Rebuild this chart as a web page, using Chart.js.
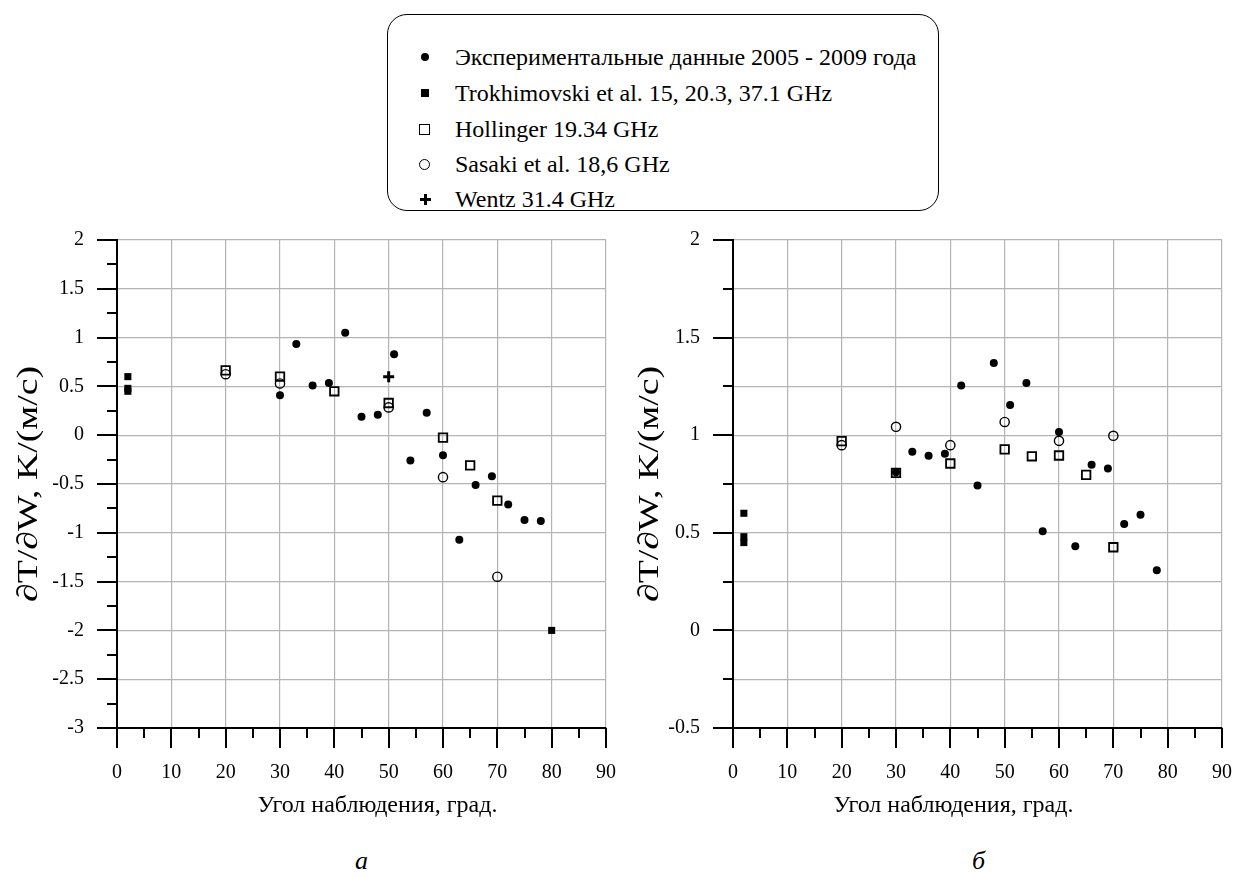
<!DOCTYPE html>
<html>
<head>
<meta charset="utf-8">
<script src="https://cdn.jsdelivr.net/npm/chart.js@4.4.1/dist/chart.umd.min.js"></script>
<style>
  html, body { overflow: hidden; }
  body { margin: 0; background: #fff; width: 1236px; height: 888px; position: relative;
         font-family: "Liberation Serif", "Times New Roman", serif; color: #000; }
  .box { position: absolute; }
  #legend { left: 387px; top: 14px; width: 552px; height: 197px; border: 1px solid #000; border-radius: 20px; box-sizing: border-box; }
  .row { position: absolute; left: 0; height: 30px; line-height: 30px; font-size: 24px; white-space: nowrap; }
  .row span.txt { position: absolute; left: 67px; top: 0; }
  .mk { position: absolute; box-sizing: border-box; }
  .sub { position: absolute; font-size: 26px; font-style: italic; }
</style>
</head>
<body>
<div class="box" style="left:0;top:230px;width:620px;height:600px"><canvas id="chartA"></canvas></div>
<div class="box" style="left:620px;top:230px;width:616px;height:600px"><canvas id="chartB"></canvas></div>

<div id="legend" class="box"></div>
<div class="sub" style="left:355px;top:846px">а</div>
<div class="sub" style="left:972px;top:846px">б</div>

<script>
// --- Data (angle in degrees, dT/dW in K/(m/s)) ---
const expAngles   = [30, 33, 36, 39, 42, 45, 48, 51, 54, 57, 60, 63, 66, 69, 72, 75, 78];
const expLeft     = [0.41, 0.935, 0.51, 0.535, 1.05, 0.19, 0.21, 0.83, -0.26, 0.23, -0.205, -1.07, -0.51, -0.42, -0.71, -0.87, -0.88];
const expRight    = [0.81, 0.915, 0.895, 0.905, 1.255, 0.742, 1.37, 1.155, 1.268, 0.508, 1.017, 0.431, 0.848, 0.83, 0.545, 0.593, 0.308];

const trokhAnglesLeft  = [2, 2, 2, 80];
const trokhLeft        = [0.6, 0.48, 0.45, -2.0];
const trokhAnglesRight = [2, 2, 2];
const trokhRight       = [0.6, 0.48, 0.45];

const hollAnglesLeft  = [20, 30, 40, 50, 60, 65, 70];
const hollLeft        = [0.665, 0.6, 0.45, 0.33, -0.025, -0.31, -0.67];
const hollAnglesRight = [20, 30, 40, 50, 55, 60, 65, 70];
const hollRight       = [0.97, 0.807, 0.855, 0.927, 0.892, 0.896, 0.797, 0.426];

const sasAnglesLeft  = [20, 30, 50, 60, 70];
const sasLeft        = [0.625, 0.53, 0.285, -0.43, -1.45];
const sasAnglesRight = [20, 30, 40, 50, 60, 70];
const sasRight       = [0.949, 1.043, 0.949, 1.068, 0.971, 0.997];

const wentzAngles = [50];
const wentzLeft   = [0.6];

// tick labels
const xTickLabels      = ['0', '10', '20', '30', '40', '50', '60', '70', '80', '90'];
const yTickLabelsLeft  = ['-3', '-2.5', '-2', '-1.5', '-1', '-0.5', '0', '0.5', '1', '1.5', '2'];
const yTickLabelsRight = ['-0.5', '0', '0.5', '1', '1.5', '2'];

const legendLabels = [
  'Экспериментальные данные 2005 - 2009 года',
  'Trokhimovski et al. 15, 20.3, 37.1 GHz',
  'Hollinger 19.34 GHz',
  'Sasaki et al. 18,6 GHz',
  'Wentz 31.4 GHz'
];

const xTitle = 'Угол наблюдения, град.';
const yTitle = '\u2202T/\u2202W, K/(м/с)';
const serif = '"Liberation Serif", "Times New Roman", serif';

Chart.defaults.font.family = serif;
Chart.defaults.color = '#000';

const pts = (xs, ys) => xs.map((x, i) => ({ x: x, y: ys[i] }));

// markers
const styleExp   = { pointStyle: 'circle', pointRadius: 4, backgroundColor: '#000', borderColor: '#000', borderWidth: 0 };
const styleTrokh = { pointStyle: 'rect', pointRadius: 5, backgroundColor: '#000', borderColor: '#000', borderWidth: 0 };
const styleHoll  = { pointStyle: 'rect', pointRadius: 6, backgroundColor: 'rgba(255,255,255,0)', borderColor: '#000', borderWidth: 1.8 };
const styleSas   = { pointStyle: 'circle', pointRadius: 4.6, backgroundColor: 'rgba(255,255,255,0)', borderColor: '#000', borderWidth: 1.4 };
const styleWentz = { pointStyle: 'cross', pointRadius: 5.5, backgroundColor: '#000', borderColor: '#000', borderWidth: 3 };

// tick marks, tick labels and axis titles, placed with the chart's own scales
const axisDecor = {
  id: 'axisDecor',
  afterDraw(chart, args, opts) {
    const { ctx, chartArea: a, scales: { x, y } } = chart;
    ctx.save();
    ctx.strokeStyle = '#000';
    ctx.lineWidth = 2;
    ctx.beginPath();
    for (let v = 0; v <= 90; v += 5) {
      const px = Math.round(x.getPixelForValue(v));
      ctx.moveTo(px, a.bottom);
      ctx.lineTo(px, a.bottom + (v % 10 === 0 ? 20 : 10));
    }
    for (let v = y.min; v <= y.max + 1e-9; v += 0.25) {
      const py = Math.round(y.getPixelForValue(v));
      const major = Math.abs(v * 2 - Math.round(v * 2)) < 1e-6;
      ctx.moveTo(a.left, py);
      ctx.lineTo(a.left - (major ? 20 : 10), py);
    }
    ctx.stroke();

    ctx.fillStyle = '#000';
    ctx.font = '20px ' + serif;
    ctx.textBaseline = 'middle';
    ctx.textAlign = 'center';
    xTickLabels.forEach(t => ctx.fillText(t, x.getPixelForValue(+t), a.bottom + opts.xLabelOffset));
    ctx.textAlign = 'right';
    opts.yLabels.forEach(t => ctx.fillText(t, a.left - opts.yLabelGap, y.getPixelForValue(+t)));

    ctx.textAlign = 'center';
    ctx.font = '24px ' + serif;
    ctx.fillText(xTitle, (a.left + a.right) / 2 + opts.xShift, a.bottom + opts.xTitleOffset);
    // y title, stretched along its length
    ctx.font = '29px ' + serif;
    const w = ctx.measureText(yTitle).width;
    ctx.translate(a.left - opts.yTitleOffset, (a.top + a.bottom) / 2);
    ctx.rotate(-Math.PI / 2);
    ctx.scale(opts.yLength / w, 1);
    ctx.fillText(yTitle, 0, 0);
    ctx.restore();
  }
};

function makeChart(id, datasets, yMin, yMax, yStep, yWidth, decor) {
  return new Chart(document.getElementById(id), {
    type: 'scatter',
    data: { datasets: datasets },
    options: {
      responsive: true,
      maintainAspectRatio: false,
      animation: false,
      layout: { padding: { top: 10, right: 14, bottom: 0, left: 0 } },
      plugins: { legend: { display: false }, tooltip: { enabled: false }, axisDecor: decor },
      scales: {
        x: {
          type: 'linear', min: 0, max: 90,
          afterFit: s => { s.height = 102; },
          ticks: { stepSize: 10, display: false },
          grid: { color: '#b4b4b4', lineWidth: 1.2, drawTicks: false },
          border: { color: '#000', width: 2 }
        },
        y: {
          type: 'linear', min: yMin, max: yMax,
          afterFit: s => { s.width = yWidth; },
          ticks: { stepSize: yStep, display: false },
          grid: { color: '#b4b4b4', lineWidth: 1.2, drawTicks: false },
          border: { color: '#000', width: 2 }
        }
      }
    },
    plugins: [axisDecor]
  });
}

makeChart('chartA', [
  Object.assign({ label: legendLabels[0], data: pts(expAngles, expLeft) }, styleExp),
  Object.assign({ label: legendLabels[1], data: pts(trokhAnglesLeft, trokhLeft) }, styleTrokh),
  Object.assign({ label: legendLabels[2], data: pts(hollAnglesLeft, hollLeft) }, styleHoll),
  Object.assign({ label: legendLabels[3], data: pts(sasAnglesLeft, sasLeft) }, styleSas),
  Object.assign({ label: legendLabels[4], data: pts(wentzAngles, wentzLeft) }, styleWentz)
], -3, 2, 0.5, 117, {
  yLabels: yTickLabelsLeft, yLabelGap: 33, xLabelOffset: 45,
  xShift: 16, xTitleOffset: 78, yTitleOffset: 88, yLength: 236
});

makeChart('chartB', [
  Object.assign({ label: legendLabels[0], data: pts(expAngles, expRight) }, styleExp),
  Object.assign({ label: legendLabels[1], data: pts(trokhAnglesRight, trokhRight) }, styleTrokh),
  Object.assign({ label: legendLabels[2], data: pts(hollAnglesRight, hollRight) }, styleHoll),
  Object.assign({ label: legendLabels[3], data: pts(sasAnglesRight, sasRight) }, styleSas)
], -0.5, 2, 0.25, 113, {
  yLabels: yTickLabelsRight, yLabelGap: 33, xLabelOffset: 45,
  xShift: -24, xTitleOffset: 78, yTitleOffset: 83, yLength: 236
});

// --- HTML legend ---
const legend = document.getElementById('legend');
const rowTops = [27, 63, 99, 134, 169];
const markerCss = [
  'left:33px;top:11px;width:8px;height:8px;border-radius:50%;background:#000;',
  'left:33px;top:11px;width:8px;height:8px;background:#000;',
  'left:31px;top:10px;width:11px;height:11px;border:1.6px solid #000;',
  'left:31px;top:10px;width:11px;height:11px;border:1.4px solid #000;border-radius:50%;',
  ''
];
legendLabels.forEach((text, i) => {
  const row = document.createElement('div');
  row.className = 'row';
  row.style.top = rowTops[i] + 'px';
  row.style.width = '540px';
  if (i < 4) {
    const m = document.createElement('div');
    m.className = 'mk';
    m.style.cssText = markerCss[i];
    row.appendChild(m);
  } else {
    const h = document.createElement('div');
    h.className = 'mk';
    h.style.cssText = 'left:32px;top:14px;width:11px;height:3px;background:#000;';
    const v = document.createElement('div');
    v.className = 'mk';
    v.style.cssText = 'left:36px;top:10px;width:3px;height:11px;background:#000;';
    row.appendChild(h);
    row.appendChild(v);
  }
  const t = document.createElement('span');
  t.className = 'txt';
  t.textContent = text;
  row.appendChild(t);
  legend.appendChild(row);
});
</script>
</body>
</html>
